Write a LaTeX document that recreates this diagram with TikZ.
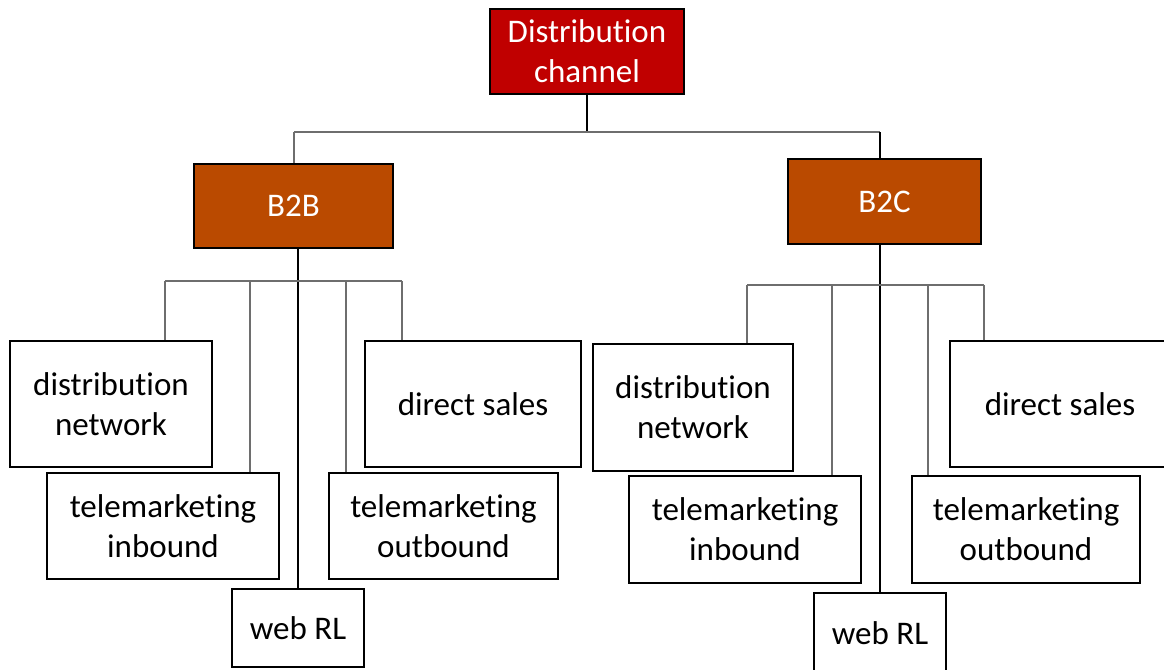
\documentclass[tikz,border=0pt]{standalone}
\usepackage{fontspec}
\setmainfont{Carlito}[Ligatures=NoCommon]
\definecolor{chanred}{RGB}{192,0,0}
\definecolor{segbrown}{RGB}{186,74,0}
\definecolor{branchgray}{RGB}{110,110,110}
\begin{document}
\begin{tikzpicture}
  [x=1pt,y=-1pt,
   every node/.style={draw,line width=2pt,align=center,inner sep=0pt,
     font=\fontsize{33}{40}\selectfont},
   head/.style={fill=chanred,text=white},
   seg/.style={fill=segbrown,text=white},
   leaf/.style={fill=white},
   stem/.style={line width=1.3pt},
   branch/.style={line width=1.3pt,color=branchgray}]
  \useasboundingbox (0,0) rectangle (1164,669);
  \clip (0,0) rectangle (1164,669);

  \node[head,minimum width=194pt,minimum height=85pt] (chan) at (587,51.5) {Distribution\\channel};
  \node[seg,minimum width=199pt,minimum height=84pt] (b2b) at (293.5,206) {B2B};
  \node[seg,minimum width=193pt,minimum height=85pt] (b2c) at (884.5,201.5) {B2C};

  % B2B leaves
  \node[leaf,minimum width=202pt,minimum height=126pt] (dnL) at (111,404)   {distribution\\network};
  \node[leaf,minimum width=232pt,minimum height=106pt] (tiL) at (163,526)   {telemarketing\\inbound};
  \node[leaf,minimum width=132pt,minimum height=78pt]  (wbL) at (298,628)   {web RL};
  \node[leaf,minimum width=229pt,minimum height=106pt] (toL) at (443.5,526) {telemarketing\\outbound};
  \node[leaf,minimum width=216pt,minimum height=126pt] (dsL) at (473,404)   {direct sales};

  % B2C leaves
  \node[leaf,minimum width=200pt,minimum height=127pt] (dnR) at (693,407.5)  {distribution\\network};
  \node[leaf,minimum width=232pt,minimum height=107pt] (tiR) at (745,529.5)  {telemarketing\\inbound};
  \node[leaf,minimum width=132pt,minimum height=80pt]  (wbR) at (880,633)    {web RL};
  \node[leaf,minimum width=228pt,minimum height=107pt] (toR) at (1026,529.5) {telemarketing\\outbound};
  \node[leaf,minimum width=220pt,minimum height=126pt] (dsR) at (1060,404)   {direct sales};

  % bus points
  \coordinate (top)  at (587,132);
  \coordinate (ta)   at (294,132);
  \coordinate (tb)   at (880,132);
  \coordinate (l1) at (165,281);
  \coordinate (l2) at (250,281);
  \coordinate (l3) at (298,281);
  \coordinate (l4) at (346,281);
  \coordinate (l5) at (402,281);
  \coordinate (r1) at (747,285);
  \coordinate (r2) at (832,285);
  \coordinate (r3) at (880,285);
  \coordinate (r4) at (928,285);
  \coordinate (r5) at (984,285);

  \draw[stem] (chan) -- (top);
  \draw[branch] (ta) -- (tb);
  \draw[branch] (ta) -- (ta |- b2b.north);
  \draw[stem] (tb) -- (tb |- b2c.north);

  \draw[stem] (l3 |- b2b.south) -- (wbL);
  \draw[stem] (r3 |- b2c.south) -- (wbR);
  \draw[branch] (l1) -- (l5);
  \draw[branch] (r1) -- (r5);
  \foreach \from/\to in {l1/dnL,l2/tiL,l4/toL,l5/dsL,r1/dnR,r2/tiR,r4/toR,r5/dsR}
    \draw[branch] (\from) -- (\from |- \to.north);
\end{tikzpicture}
\end{document}
